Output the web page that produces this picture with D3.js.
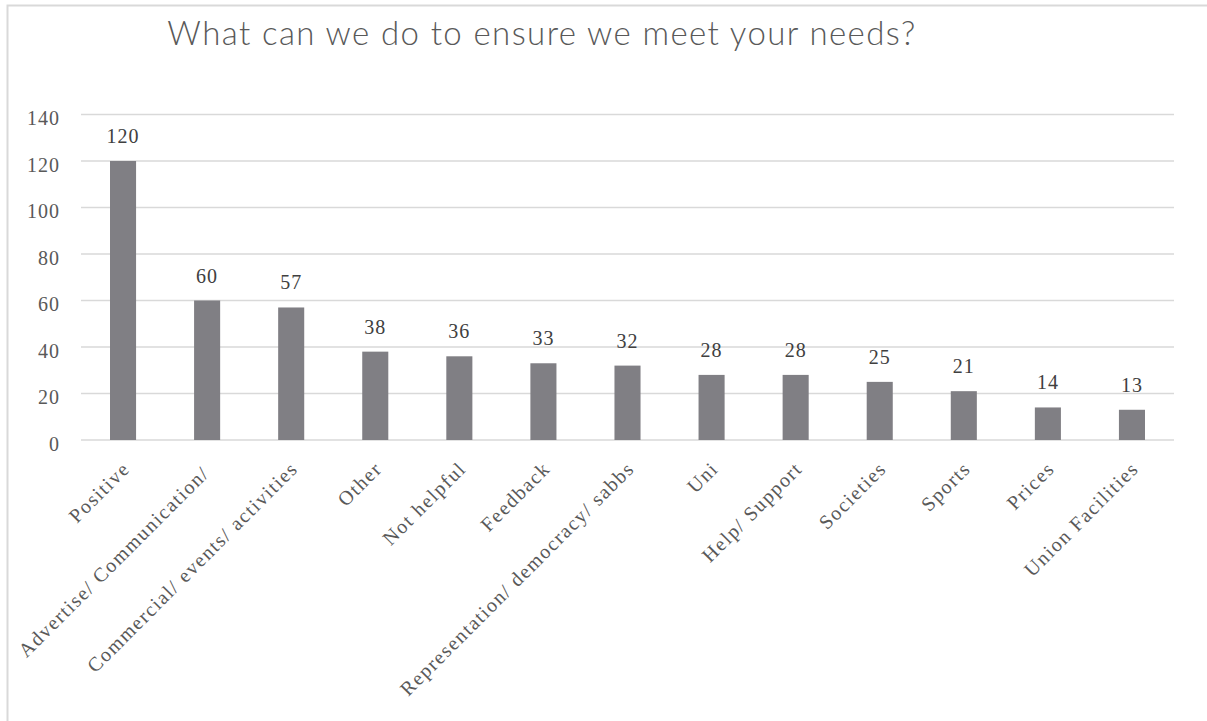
<!DOCTYPE html>
<html>
<head>
<meta charset="utf-8">
<script src="https://cdn.jsdelivr.net/npm/d3@7"></script>
<style>
  html, body { margin: 0; padding: 0; background: #fff; }
  svg { display: block; }
  .cat text { white-space: pre; }
</style>
</head>
<body>
<svg id="chart" width="1207" height="721"></svg>
<script>
// Survey responses grouped by theme
const categories = [
  "Positive", "Advertise/ Communication/ ", "Commercial/ events/ activities",
  "Other", "Not helpful", "Feedback", "Representation/ democracy/ sabbs",
  "Uni", "Help/ Support", "Societies", "Sports", "Prices", "Union Facilities"
];
const counts = [120, 60, 57, 38, 36, 33, 32, 28, 28, 25, 21, 14, 13];
const yTicks = [0, 20, 40, 60, 80, 100, 120, 140];
const chartTitle = "What can we do to ensure we meet your needs?";

const svg = d3.select("#chart");
const W = 1207, H = 721;
const margin = { left: 81, right: W - 1174, top: 114.5, bottom: H - 440 };
const serif = "'Liberation Serif', 'Times New Roman', serif";

// outer frame
svg.append("rect")
  .attr("x", 7.5).attr("y", 5.5)
  .attr("width", W + 10).attr("height", H + 10)
  .attr("fill", "#fff")
  .attr("stroke", "#d9d9d9").attr("stroke-width", 2);

const x = d3.scaleBand()
  .domain(categories)
  .range([margin.left, W - margin.right])
  .paddingInner(0.69).paddingOuter(0.345);

const y = d3.scaleLinear()
  .domain([0, 140])
  .range([H - margin.bottom, margin.top]);

// gridlines
svg.append("g")
  .selectAll("line")
  .data(yTicks)
  .join("line")
  .attr("x1", margin.left).attr("x2", W - margin.right)
  .attr("y1", d => y(d)).attr("y2", d => y(d))
  .attr("stroke", "#d9d9d9").attr("stroke-width", 1.5);

// y axis labels
const yAxis = d3.axisLeft(y).tickValues(yTicks).tickSize(0).tickPadding(21);
const gy = svg.append("g")
  .attr("transform", `translate(${margin.left},0)`)
  .call(yAxis);
gy.select(".domain").remove();
gy.selectAll("text")
  .attr("font-family", serif)
  .attr("font-size", 20)
  .attr("letter-spacing", 1)
  .attr("dy", "0.52em")
  .attr("fill", "#595959");

// bars
svg.append("g")
  .selectAll("rect")
  .data(categories)
  .join("rect")
  .attr("x", d => x(d))
  .attr("width", x.bandwidth())
  .attr("y", (d, i) => y(counts[i]))
  .attr("height", (d, i) => y(0) - y(counts[i]))
  .attr("fill", "#807f84");

// value labels
svg.append("g")
  .selectAll("text")
  .data(categories)
  .join("text")
  .attr("x", d => x(d) + x.bandwidth() / 2)
  .attr("y", (d, i) => y(counts[i]) - 18)
  .attr("text-anchor", "middle")
  .attr("font-family", serif)
  .attr("font-size", 20)
  .attr("letter-spacing", 1)
  .attr("fill", "#404040")
  .text((d, i) => counts[i]);

// category axis labels, rotated
const xAxis = d3.axisBottom(x).tickSize(0).tickPadding(0);
const gx = svg.append("g")
  .attr("class", "cat")
  .attr("transform", `translate(0,${y(0)})`)
  .call(xAxis);
gx.select(".domain").remove();
gx.selectAll("text")
  .attr("font-family", serif)
  .attr("font-size", 20)
  .attr("letter-spacing", 1.5)
  .attr("fill", "#595959")
  .attr("text-anchor", "end")
  .attr("dy", "0.35em")
  .attr("transform", "translate(3,25) rotate(-45)");

// title
svg.append("text")
  .attr("x", 542).attr("y", 45)
  .attr("text-anchor", "middle")
  .attr("font-family", "Lato, 'Open Sans', sans-serif")
  .attr("font-weight", 300)
  .attr("font-size", 33)
  .attr("letter-spacing", 1.4)
  .attr("fill", "#595959")
  .text(chartTitle);
</script>
</body>
</html>
